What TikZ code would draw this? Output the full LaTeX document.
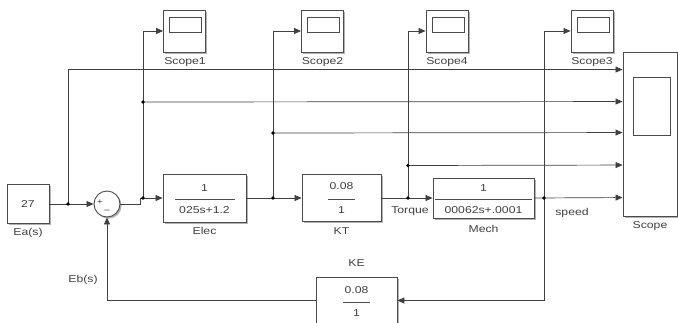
\documentclass[tikz,border=0pt]{standalone}
\usepackage{fontspec}
\setmainfont[FakeStretch=1.22]{Liberation Sans}
\usetikzlibrary{arrows.meta,shadows,calc}

\begin{document}
\begin{tikzpicture}[x=1pt,y=-1pt,
  every node/.style={font=\fontsize{10}{11}\selectfont, text=black!75, inner sep=0pt},
  blk/.style={draw=black!70, line width=0.9pt, fill=white,
    drop shadow={shadow xshift=1.6pt, shadow yshift=-1.6pt, fill=black!30, opacity=1}},
  wire/.style={draw=black!75, line width=0.7pt},
  sig/.style={wire, -{Triangle[length=7pt,width=6pt]}},
  jdot/.style={circle, fill=black, minimum size=3.6pt, inner sep=0pt},
  scopebox/.style={blk, minimum width=42pt, minimum height=42pt},
  screen/.style={draw=black!70, line width=0.8pt, fill=white, minimum width=32pt, minimum height=15pt},
  fracbar/.style={draw=black!70, line width=0.7pt},
]
\useasboundingbox (0,0) rectangle (678,322);
\fill[white] (0,0) rectangle (678,322);

% ---- blocks ----
\node[blk, minimum width=42pt, minimum height=39pt] (c27) at (28,204) {27};
\node (c27lbl) at (28,233) {Ea(s)};

\node[blk, circle, minimum size=26pt] (sum) at (107,204) {};
\node[font=\fontsize{8}{9}\selectfont] (plus) at (100,202) {+};
\node[font=\fontsize{9}{9}\selectfont] (minus) at (107,211.5) {−};
\node (eblbl) at (83,280) {Eb(s)};

\node[blk, minimum width=83pt, minimum height=48pt] (elec) at (204.5,198) {};
\node (elecnum) at (204.5,188) {1};
\draw[fracbar] (175,199) -- (235,199);
\node (elecden) at (204.5,210) {025s+1.2};
\node (eleclbl) at (204.5,231) {Elec};

\node[blk, minimum width=79pt, minimum height=47pt] (kt) at (341.5,198) {};
\node (ktnum) at (341.5,186.5) {0.08};
\draw[fracbar] (328,199) -- (355,199);
\node (ktden) at (341.5,210) {1};
\node (ktlbl) at (341.5,231) {KT};

\node[blk, minimum width=101pt, minimum height=40pt] (mech) at (483.5,198) {};
\node (mechnum) at (483.5,188) {1};
\draw[fracbar] (435,199) -- (532,199);
\node (mechden) at (483.5,210) {00062s+.0001};
\node (mechlbl) at (483.5,229) {Mech};

\node[blk, minimum width=81pt, minimum height=47pt] (ke) at (356.5,300.5) {};
\node (kenum) at (356.5,290) {0.08};
\draw[fracbar] (343,302) -- (370,302);
\node (keden) at (356.5,313) {1};
\node (kelbl) at (356.5,263) {KE};

\node (torque) at (410,211) {Torque};
\node (speed) at (572,213) {speed};

% ---- scopes ----
\node[scopebox] (scope1) at (184.5,31) {};
\node[screen] at ($(scope1.center)+(1,-6.5)$) {};
\node (s1lbl) at (185,62) {Scope1};

\node[scopebox] (scope2) at (322.5,31) {};
\node[screen] at ($(scope2.center)+(1,-6.5)$) {};
\node (s2lbl) at (322.5,62) {Scope2};

\node[scopebox] (scope4) at (447,31) {};
\node[screen] at ($(scope4.center)+(1,-6.5)$) {};
\node (s4lbl) at (447,62) {Scope4};

\node[scopebox] (scope3) at (592,31) {};
\node[screen] at ($(scope3.center)+(1,-6.5)$) {};
\node (s3lbl) at (592,62) {Scope3};

\node[blk, minimum width=54pt, minimum height=164pt] (scope) at (650,134) {};
\node[draw=black!70, line width=0.8pt, minimum width=37pt, minimum height=58pt] (scrn) at (651.5,106) {};
\node (slbl) at (650,226) {Scope};

% scope input ports
\coordinate (in1) at ($(scope.north west)+(0,18)$);
\coordinate (in2) at ($(scope.north west)+(0,50)$);
\coordinate (in3) at ($(scope.north west)+(0,81)$);
\coordinate (in4) at ($(scope.north west)+(0,113.5)$);
\coordinate (in5) at ($(scope.north west)+(0,146)$);

% ---- branch points ----
\coordinate (j0) at (68,204);
\coordinate (bend) at (140,198);
\coordinate (j1) at (143,198);
\coordinate (j1b) at (143,102);
\coordinate (j2) at (273,198);
\coordinate (j2b) at (273,133);
\coordinate (j3) at (408,198);
\coordinate (j3b) at (408,165.5);
\coordinate (j4) at (544,198);

% ---- signal lines ----
\draw[sig] (c27.east) -- (sum.west);
\draw[sig] (j0) |- (in1);
\draw[sig] (sum.east) -| (bend) -- (elec.west);
\draw[sig] (j1) |- (scope1.west);
\draw[sig] (j1b) -- (in2);
\draw[sig] (elec.east) -- (kt.west);
\draw[sig] (j2) |- (scope2.west);
\draw[sig] (j2b) -- (in3);
\draw[sig] (kt.east) -- (mech.west);
\draw[sig] (j3) |- (scope4.west);
\draw[sig] (j3b) -- (in4);
\draw[sig] (mech.east) -- (in5);
\draw[sig] (j4) |- (scope3.west);
\draw[sig] (j4) |- (ke.east);
\draw[sig] (ke.west) -| (sum.south);

% ---- junction dots ----
\foreach \p in {j0,j1,j1b,j2,j2b,j3,j3b,j4}
  \node[jdot] at (\p) {};
\end{tikzpicture}
\end{document}
